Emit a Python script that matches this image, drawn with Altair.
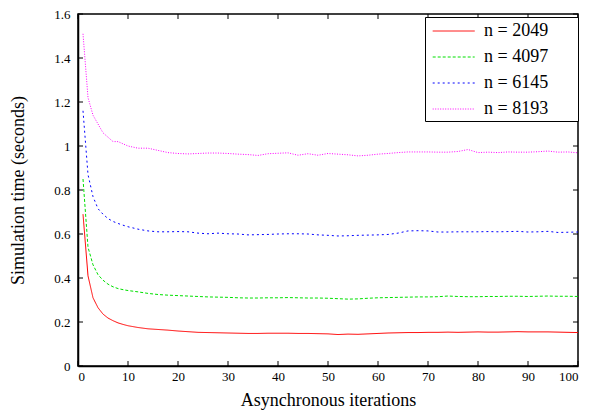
import altair as alt
import pandas as pd

iters = [1, 2, 3, 4, 5, 6, 7, 8, 9, 10,
         12, 14, 16, 18, 20, 22, 24, 26, 28, 30,
         32, 34, 36, 38, 40, 42, 44, 46, 48, 50,
         52, 54, 56, 58, 60, 62, 64, 66, 68, 70,
         72, 74, 76, 78, 80, 82, 84, 86, 88, 90,
         92, 94, 96, 98, 100]

t_2049 = [0.69, 0.41, 0.31, 0.265, 0.236, 0.218, 0.206, 0.196, 0.189, 0.183,
          0.175, 0.169, 0.166, 0.163, 0.159, 0.156, 0.153, 0.152, 0.151, 0.150,
          0.149, 0.148, 0.148, 0.149, 0.149, 0.149, 0.148, 0.148, 0.147, 0.146,
          0.143, 0.145, 0.144, 0.146, 0.148, 0.150, 0.151, 0.152, 0.152, 0.153,
          0.153, 0.154, 0.153, 0.154, 0.155, 0.154, 0.154, 0.155, 0.156, 0.155,
          0.155, 0.155, 0.154, 0.153, 0.152]

t_4097 = [0.85, 0.54, 0.46, 0.415, 0.39, 0.372, 0.36, 0.352, 0.347, 0.343,
          0.337, 0.330, 0.325, 0.322, 0.320, 0.318, 0.316, 0.314, 0.313, 0.312,
          0.310, 0.309, 0.309, 0.310, 0.310, 0.311, 0.310, 0.309, 0.309, 0.308,
          0.306, 0.304, 0.305, 0.308, 0.310, 0.311, 0.312, 0.313, 0.314, 0.314,
          0.315, 0.318, 0.316, 0.315, 0.315, 0.316, 0.316, 0.317, 0.317, 0.316,
          0.317, 0.318, 0.317, 0.317, 0.316]

t_6145 = [1.16, 0.87, 0.77, 0.715, 0.69, 0.67, 0.657, 0.648, 0.64, 0.633,
          0.622, 0.614, 0.610, 0.610, 0.611, 0.610, 0.604, 0.601, 0.604, 0.601,
          0.600, 0.596, 0.597, 0.598, 0.600, 0.601, 0.601, 0.600, 0.596, 0.594,
          0.591, 0.592, 0.594, 0.595, 0.596, 0.598, 0.604, 0.614, 0.615, 0.614,
          0.609, 0.609, 0.610, 0.610, 0.610, 0.611, 0.610, 0.611, 0.612, 0.609,
          0.610, 0.612, 0.607, 0.608, 0.609]

t_8193 = [1.51, 1.22, 1.14, 1.10, 1.06, 1.04, 1.02, 1.02, 1.01, 1.00,
          0.99, 0.99, 0.98, 0.97, 0.966, 0.964, 0.966, 0.968, 0.968, 0.966,
          0.963, 0.961, 0.957, 0.965, 0.967, 0.969, 0.958, 0.965, 0.958, 0.966,
          0.963, 0.960, 0.955, 0.958, 0.963, 0.966, 0.970, 0.973, 0.973, 0.973,
          0.972, 0.972, 0.975, 0.984, 0.970, 0.972, 0.970, 0.973, 0.972, 0.972,
          0.974, 0.977, 0.972, 0.973, 0.969]

labels = ["n = 2049", "n = 4097", "n = 6145", "n = 8193"]
colors = ["#ff0000", "#00e000", "#0000ff", "#ff00ff"]
dashes = [[1, 0], [3, 2], [2, 3], [1, 1.5]]

x_ticks = [0, 10, 20, 30, 40, 50, 60, 70, 80, 90, 100]
y_ticks = [0, 0.2, 0.4, 0.6, 0.8, 1.0, 1.2, 1.4, 1.6]

series = [t_2049, t_4097, t_6145, t_8193]
rows = []
for lab, vals in zip(labels, series):
    for i, v in zip(iters, vals):
        rows.append({"iter": i, "time": v, "series": lab})
df = pd.DataFrame(rows)

W, H = 500, 352
FONT = "Times New Roman, Liberation Serif, serif"

xscale = alt.Scale(domain=[0, 100], nice=False)
yscale = alt.Scale(domain=[0, 1.6], nice=False)

legend = alt.Legend(
    title=None, orient="none", legendX=347, legendY=3,
    symbolType="M-0.6,0H3.4", symbolSize=441, symbolStrokeWidth=1,
    labelFont=FONT, labelFontSize=18, labelColor="black",
    strokeColor="black", fillColor="white", padding=3,
    rowPadding=6, labelOffset=34,
    labelExpr="datum.label + '\u2800\u2800'",
)

lines = alt.Chart(df).mark_line(strokeWidth=1, clip=True).encode(
    x=alt.X("iter:Q", scale=xscale,
            axis=alt.Axis(values=x_ticks, tickSize=0, title="Asynchronous iterations",
                          format="d", labelPadding=4, titlePadding=8, grid=False,
                          labelFont=FONT, titleFont=FONT)),
    y=alt.Y("time:Q", scale=yscale,
            axis=alt.Axis(values=y_ticks, tickSize=0, title="Simulation time (seconds)",
                          format="~g", labelPadding=8, titlePadding=26, grid=False,
                          labelFont=FONT, titleFont=FONT)),
    color=alt.Color("series:N", scale=alt.Scale(domain=labels, range=colors), legend=legend),
    strokeDash=alt.StrokeDash("series:N", scale=alt.Scale(domain=labels, range=dashes), legend=legend),
)

xt = pd.DataFrame({"v": x_ticks})
yt = pd.DataFrame({"v": y_ticks})
TL = 5
bottom_ticks = alt.Chart(xt).mark_rule(color="black", strokeWidth=1).encode(
    x=alt.X("v:Q", scale=xscale), y=alt.value(H), y2=alt.value(H - TL))
top_ticks = alt.Chart(xt).mark_rule(color="black", strokeWidth=1).encode(
    x=alt.X("v:Q", scale=xscale), y=alt.value(0), y2=alt.value(TL))
left_ticks = alt.Chart(yt).mark_rule(color="black", strokeWidth=1).encode(
    y=alt.Y("v:Q", scale=yscale), x=alt.value(0), x2=alt.value(TL))
right_ticks = alt.Chart(yt).mark_rule(color="black", strokeWidth=1).encode(
    y=alt.Y("v:Q", scale=yscale), x=alt.value(W), x2=alt.value(W - TL))

chart = alt.layer(lines, bottom_ticks, top_ticks, left_ticks, right_ticks).properties(
    width=W, height=H,
    autosize=alt.AutoSizeParams(type="none"),
    padding={"left": 70, "top": 6, "right": 8, "bottom": 50},
).configure_view(
    stroke="black", strokeWidth=1.5
).configure_axis(
    labelFont=FONT, labelFontSize=13, labelColor="black",
    titleFont=FONT, titleFontSize=18, titleFontWeight="normal", titleColor="black",
    domainColor="black", domainWidth=1.5,
).configure_legend(
    labelFont=FONT
)

chart.save("out.html", embed_options={"renderer": "svg", "actions": False})
